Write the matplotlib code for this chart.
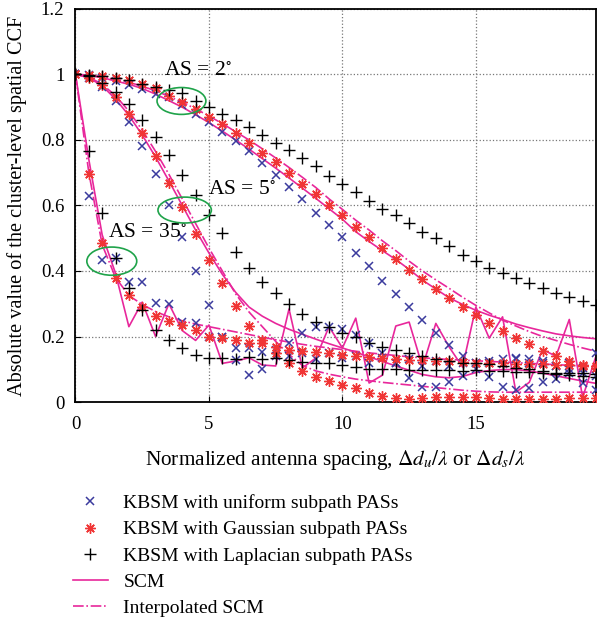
import matplotlib
matplotlib.use('Agg')
import matplotlib.pyplot as plt
from matplotlib.patches import Ellipse

plt.rcParams['font.family'] = 'Liberation Serif'
plt.rcParams['mathtext.fontset'] = 'stix'

# espaçamento normalizado (passo 0.5)
x = [0, 0.5, 1, 1.5, 2, 2.5, 3, 3.5, 4, 4.5, 5, 5.5, 6, 6.5, 7, 7.5, 8, 8.5, 9, 9.5,
     10, 10.5, 11, 11.5, 12, 12.5, 13, 13.5, 14, 14.5, 15, 15.5, 16, 16.5, 17, 17.5, 18, 18.5, 19, 19.5]

# AS = 2 graus
u2 = [1.0, 0.997, 0.99, 0.98, 0.968, 0.955, 0.94, 0.93, 0.907, 0.88, 0.855, 0.825, 0.797, 0.765, 0.73, 0.693,
      0.657, 0.62, 0.578, 0.54, 0.503, 0.455, 0.415, 0.37, 0.33, 0.29, 0.25, 0.21, 0.175, 0.14,
      0.12, 0.076, 0.046, 0.037, 0.043, 0.06, 0.07, 0.09, 0.058, 0.037]
g2 = [1.0, 0.998, 0.995, 0.99, 0.983, 0.971, 0.958, 0.934, 0.916, 0.894, 0.87, 0.849, 0.822, 0.79, 0.76, 0.733,
      0.70, 0.666, 0.635, 0.60, 0.57, 0.535, 0.505, 0.47, 0.437, 0.404, 0.375, 0.345, 0.318, 0.29,
      0.266, 0.24, 0.218, 0.196, 0.178, 0.157, 0.14, 0.126, 0.113, 0.104]
l2 = [1.0, 0.999, 0.996, 0.99, 0.982, 0.972, 0.962, 0.953, 0.943, 0.92, 0.90, 0.88, 0.86, 0.84, 0.815, 0.79,
      0.77, 0.745, 0.72, 0.69, 0.665, 0.64, 0.615, 0.59, 0.57, 0.545, 0.52, 0.50, 0.475, 0.45,
      0.43, 0.41, 0.395, 0.38, 0.363, 0.348, 0.333, 0.32, 0.308, 0.296]
s2 = [1.0, 0.997, 0.99, 0.98, 0.97, 0.957, 0.94, 0.92, 0.9, 0.877, 0.853, 0.827, 0.8, 0.772, 0.743, 0.714,
      0.684, 0.653, 0.622, 0.59, 0.558, 0.52, 0.49, 0.462, 0.435, 0.405, 0.372, 0.345, 0.318, 0.298,
      0.28, 0.265, 0.252, 0.238, 0.227, 0.217, 0.208, 0.202, 0.197, 0.193]
i2 = [1.0, 0.998, 0.993, 0.985, 0.976, 0.964, 0.95, 0.933, 0.915, 0.895, 0.873, 0.85, 0.825, 0.8, 0.773, 0.745,
      0.716, 0.686, 0.655, 0.62, 0.588, 0.555, 0.525, 0.492, 0.462, 0.43, 0.4, 0.373, 0.347, 0.32,
      0.295, 0.272, 0.25, 0.232, 0.215, 0.2, 0.188, 0.176, 0.165, 0.155]

# AS = 5 graus
u5 = [1.0, 0.99, 0.962, 0.92, 0.855, 0.78, 0.695, 0.60, 0.505, 0.40, 0.296, 0.2, 0.128, 0.082, 0.10, 0.14,
      0.18, 0.21, 0.23, 0.23, 0.222, 0.205, 0.18, 0.15, 0.12, 0.073, 0.046, 0.046, 0.06, 0.08,
      0.1, 0.12, 0.13, 0.135, 0.13, 0.12, 0.11, 0.1, 0.09, 0.08]
g5 = [1.0, 0.99, 0.968, 0.93, 0.88, 0.82, 0.75, 0.67, 0.595, 0.513, 0.434, 0.363, 0.293, 0.233, 0.19, 0.15,
      0.118, 0.095, 0.077, 0.063, 0.051, 0.042, 0.029, 0.019, 0.012, 0.009, 0.012, 0.014, 0.014, 0.015,
      0.015, 0.013, 0.01, 0.008, 0.01, 0.008, 0.01, 0.013, 0.013, 0.013]
l5 = [1.0, 0.995, 0.975, 0.947, 0.91, 0.86, 0.81, 0.755, 0.693, 0.632, 0.57, 0.515, 0.458, 0.41, 0.366, 0.332,
      0.298, 0.268, 0.245, 0.23, 0.21, 0.198, 0.18, 0.168, 0.159, 0.15, 0.142, 0.13, 0.124, 0.12,
      0.118, 0.115, 0.11, 0.105, 0.1, 0.094, 0.087, 0.082, 0.078, 0.075]
s5 = [1.0, 0.99, 0.965, 0.925, 0.875, 0.815, 0.748, 0.675, 0.6, 0.525, 0.455, 0.39, 0.335, 0.29, 0.262, 0.24,
      0.222, 0.207, 0.192, 0.178, 0.165, 0.152, 0.138, 0.124, 0.11, 0.097, 0.084, 0.077, 0.074, 0.078,
      0.09, 0.096, 0.099, 0.099, 0.095, 0.088, 0.08, 0.072, 0.064, 0.057]
i5 = [1.0, 0.992, 0.97, 0.935, 0.888, 0.83, 0.765, 0.695, 0.62, 0.545, 0.47, 0.4, 0.33, 0.275, 0.23, 0.185,
      0.145, 0.112, 0.095, 0.085, 0.077, 0.07, 0.065, 0.06, 0.056, 0.052, 0.048, 0.044, 0.04, 0.036,
      0.033, 0.031, 0.03, 0.03, 0.03, 0.03, 0.03, 0.03, 0.03, 0.03]

# AS = 35 graus
u35 = [1.0, 0.63, 0.433, 0.44, 0.365, 0.365, 0.303, 0.30, 0.245, 0.24, 0.2, 0.2, 0.165, 0.165, 0.153, 0.16,
       0.14, 0.15, 0.13, 0.15, 0.135, 0.14, 0.12, 0.135, 0.12, 0.13, 0.11, 0.125, 0.11, 0.12,
       0.12, 0.125, 0.115, 0.13, 0.12, 0.125, 0.11, 0.12, 0.105, 0.15]
g35 = [1.0, 0.696, 0.485, 0.38, 0.327, 0.29, 0.263, 0.248, 0.235, 0.22, 0.2, 0.195, 0.19, 0.18, 0.18, 0.168,
       0.16, 0.156, 0.153, 0.15, 0.145, 0.14, 0.137, 0.134, 0.131, 0.128, 0.128, 0.125, 0.124, 0.122,
       0.12, 0.12, 0.118, 0.117, 0.115, 0.115, 0.113, 0.112, 0.11, 0.11]
l35 = [1.0, 0.765, 0.577, 0.44, 0.348, 0.28, 0.22, 0.188, 0.166, 0.145, 0.135, 0.135, 0.13, 0.137, 0.13, 0.134,
       0.128, 0.122, 0.12, 0.119, 0.113, 0.107, 0.1, 0.1, 0.1, 0.098, 0.098, 0.097, 0.097, 0.096,
       0.098, 0.095, 0.095, 0.093, 0.093, 0.09, 0.09, 0.088, 0.088, 0.087]
s35 = [1.0, 0.74, 0.51, 0.393, 0.23, 0.305, 0.2, 0.3, 0.218, 0.188, 0.235, 0.118, 0.125, 0.135, 0.113, 0.11,
       0.284, 0.104, 0.134, 0.23, 0.165, 0.256, 0.058, 0.082, 0.232, 0.244, 0.107, 0.24, 0.168, 0.107,
       0.29, 0.195, 0.26, 0.03, 0.06, 0.16, 0.14, 0.252, 0.014, 0.14]
i35 = [1.0, 0.7, 0.48, 0.38, 0.325, 0.298, 0.276, 0.26, 0.248, 0.238, 0.23, 0.222, 0.214, 0.206, 0.198, 0.19,
       0.183, 0.176, 0.17, 0.165, 0.16, 0.155, 0.15, 0.146, 0.142, 0.138, 0.135, 0.132, 0.13, 0.128,
       0.126, 0.124, 0.122, 0.12, 0.118, 0.116, 0.114, 0.112, 0.11, 0.108]

azul = '#3b3b9e'
vermelho = '#f03535'
rosa = '#e8279b'
verde = '#1fa34a'

fig = plt.figure(figsize=(6.02, 6.23), dpi=100)
ax = fig.add_axes([0.1254, 0.3547, 0.8646, 0.631])

# linhas SCM
for s in [s2, s5, s35]:
    ax.plot(x, s, '-', color=rosa, lw=1.2, zorder=2)
for s in [i2, i5, i35]:
    ax.plot(x, s, '-.', color=rosa, lw=1.2, zorder=2)

# pontos KBSM
for u in [u2, u5, u35]:
    ax.plot(x, u, 'x', color=azul, ms=6, mew=1.1, ls='none', zorder=3)
for g in [g2, g5, g35]:
    ax.plot(x, g, marker=(8, 2, 0), color=vermelho, ms=7.5, mew=1.0, ls='none', zorder=3)
for l in [l2, l5, l35]:
    ax.plot(x, l, '+', color='black', ms=9, mew=1.0, ls='none', zorder=3)

# elipses e anotações
ax.add_patch(Ellipse((3.97, 0.919), 1.83, 0.082, fill=False, edgecolor=verde, lw=1.2, zorder=4))
ax.add_patch(Ellipse((4.09, 0.586), 2.0, 0.079, fill=False, edgecolor=verde, lw=1.2, zorder=4))
ax.add_patch(Ellipse((1.36, 0.43), 1.87, 0.086, fill=False, edgecolor=verde, lw=1.2, zorder=4))
ax.text(3.3, 1.008, r'AS = 2$^{\circ}$', fontsize=15.5, va='center', ha='left')
ax.text(4.95, 0.647, r'AS = 5$^{\circ}$', fontsize=15.5, va='center', ha='left')
ax.text(1.2, 0.513, r'AS = 35$^{\circ}$', fontsize=15.5, va='center', ha='left')

ax.set_xlim(0, 19.5)
ax.set_ylim(0, 1.2)
ax.set_xticks([0, 5, 10, 15])
ax.set_yticks([0, 0.2, 0.4, 0.6, 0.8, 1.0, 1.2])
ax.set_yticklabels(['0', '0.2', '0.4', '0.6', '0.8', '1', '1.2'])
ax.tick_params(direction='in', labelsize=13.5, length=4)
ax.tick_params(axis='x', pad=10)
ax.tick_params(axis='y', pad=8)
ax.grid(True, ls=':', color='#777777', lw=0.9)
for sp in ax.spines.values():
    sp.set_linewidth(1.3)

ax.set_xlabel(r'Normalized antenna spacing, $\Delta d_u/\lambda$ or $\Delta d_s/\lambda$', fontsize=15.3, labelpad=11)
ax.set_ylabel('Absolute value of the cluster-level spatial CCF', fontsize=14.6, labelpad=10)

# legenda
h1, = ax.plot([], [], 'x', color=azul, ms=6, mew=1.1)
h2, = ax.plot([], [], marker=(8, 2, 0), color=vermelho, ms=7.5, mew=1.0, ls='none')
h3, = ax.plot([], [], '+', color='black', ms=9, mew=1.0)
h4, = ax.plot([], [], '-', color=rosa, lw=1.2)
h5, = ax.plot([], [], '-.', color=rosa, lw=1.2)
fig.legend([h1, h2, h3, h4, h5],
           ['KBSM with uniform subpath PASs', 'KBSM with Gaussian subpath PASs',
            'KBSM with Laplacian subpath PASs', 'SCM', 'Interpolated SCM'],
           loc='upper left', bbox_to_anchor=(0.105, 0.222), frameon=False, fontsize=14,
           numpoints=1, handlelength=1.8, handletextpad=0.8, labelspacing=0.44, borderpad=0)

fig.savefig('out.png', dpi=100)
